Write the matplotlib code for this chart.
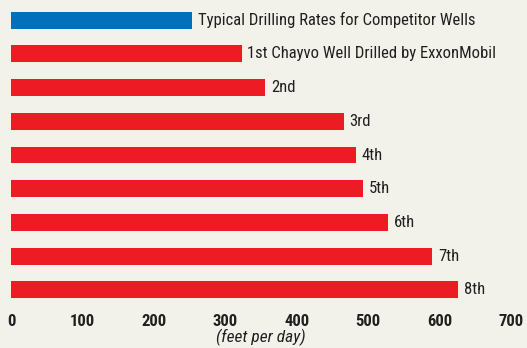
import matplotlib
matplotlib.use("Agg")
import matplotlib.pyplot as plt

labels = ["Typical Drilling Rates for Competitor Wells",
          "1st Chayvo Well Drilled by ExxonMobil",
          "2nd", "3rd", "4th", "5th", "6th", "7th", "8th"]
rates = [254, 323, 356, 466, 483, 493, 528, 590, 626]
colors = ["#0070BA"] + ["#ED1C24"] * 8
ticks = [0, 100, 200, 300, 400, 500, 600, 700]

font = ["Roboto Condensed", "DejaVu Sans"]
bg = "#F2F1EA"
ink = "#231F20"

fig = plt.figure(figsize=(5.27, 3.48), dpi=100, facecolor=bg)
ax = fig.add_axes([11 / 527, 38 / 348, 500 / 527, 310 / 348], facecolor=bg)

ypos = list(range(len(rates)))
ax.barh(ypos, rates, height=0.5, color=colors, linewidth=0)
for y, r, lab in zip(ypos, rates, labels):
    ax.annotate(lab, (r, y), xytext=(4, 0), textcoords="offset points",
                va="center", ha="left", fontsize=12, family=font, color=ink)

ax.set_xlim(0, 700)
ax.set_ylim(8.6, -0.6)
ax.set_yticks([])
ax.set_xticks(ticks)
ax.set_xticklabels([str(t) for t in ticks], family=font, fontweight="bold",
                   fontsize=12, color=ink)
ax.tick_params(axis="x", length=0, pad=3)
for s in ax.spines.values():
    s.set_visible(False)
ax.set_xlabel("(feet per day)", family=font, style="italic", fontsize=12.5,
              color=ink, labelpad=0)

fig.savefig("out.png", dpi=100, facecolor=bg)
